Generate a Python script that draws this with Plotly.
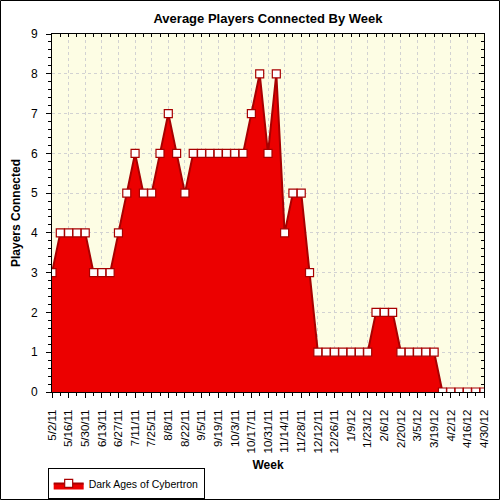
import plotly.graph_objects as go

# weekly averages
weeks = [
    "5/2/11", "5/9/11", "5/16/11", "5/23/11", "5/30/11", "6/6/11", "6/13/11", "6/20/11",
    "6/27/11", "7/4/11", "7/11/11", "7/18/11", "7/25/11", "8/1/11", "8/8/11", "8/15/11",
    "8/22/11", "8/29/11", "9/5/11", "9/12/11", "9/19/11", "9/26/11", "10/3/11", "10/10/11",
    "10/17/11", "10/24/11", "10/31/11", "11/7/11", "11/14/11", "11/21/11", "11/28/11",
    "12/5/11", "12/12/11", "12/19/11", "12/26/11", "1/2/12", "1/9/12", "1/16/12", "1/23/12",
    "1/30/12", "2/6/12", "2/13/12", "2/20/12", "2/27/12", "3/5/12", "3/12/12", "3/19/12",
    "3/26/12", "4/2/12", "4/9/12", "4/16/12", "4/23/12", "4/30/12",
]
players = [
    3, 4, 4, 4, 4, 3, 3, 3,
    4, 5, 6, 5, 5, 6, 7, 6,
    5, 6, 6, 6, 6, 6, 6, 6,
    7, 8, 6, 8, 4, 5, 5,
    3, 1, 1, 1, 1, 1, 1, 1,
    2, 2, 2, 1, 1, 1, 1, 1,
    0, 0, 0, 0, 0, 0,
]
series_name = "Dark Ages of Cybertron"

x = list(range(len(weeks)))
tick_pos = x[::2]
tick_txt = weeks[::2]

FONT = "Liberation Sans, Arial, sans-serif"

fig = go.Figure(layout=dict(width=500, height=500))
fig.add_trace(go.Scatter(
    x=x, y=players, name=series_name, mode="lines+markers",
    fill="tozeroy", fillcolor="#EC0000",
    line=dict(color="#A80000", width=2),
    marker=dict(symbol="square", size=8, color="white", line=dict(color="#A80000", width=1.2)),
))
# invisible copy so the top/right axes get drawn
fig.add_trace(go.Scatter(
    x=x, y=players, xaxis="x2", yaxis="y2", mode="lines",
    line=dict(width=0), showlegend=False, hoverinfo="skip",
))

grid = dict(showgrid=True, gridcolor="#D2D2D2", griddash="dot", gridwidth=1)

fig.update_layout(
    margin=dict(l=52, r=16, t=34, b=108, autoexpand=False),
    paper_bgcolor="white",
    plot_bgcolor="#FDFDE4",
    font=dict(family=FONT, size=12, color="black"),
    title=dict(text="<b>Average Players Connected By Week</b>", x=0.5, xref="paper",
               y=0.964, yref="container", yanchor="middle", font=dict(size=13)),
    xaxis=dict(
        range=[0, len(weeks) - 1], tickmode="array", tickvals=tick_pos, ticktext=tick_txt,
        tickangle=-90, tickfont=dict(size=11.5), ticks="outside", ticklen=5, tickcolor="black",
        minor=dict(dtick=1, ticks="outside", ticklen=3, tickcolor="black", showgrid=False),
        showline=True, linecolor="black", linewidth=1, zeroline=False,
        ticklabelstandoff=7, automargin=False,
        title=dict(text="<b>Week</b>", font=dict(size=12), standoff=8),
        **grid,
    ),
    yaxis=dict(
        range=[0, 9], dtick=1, ticks="outside", ticklen=5, tickcolor="black",
        minor=dict(dtick=0.2, ticks="outside", ticklen=3, tickcolor="black", showgrid=False),
        showline=True, linecolor="black", linewidth=1, zeroline=False,
        ticklabelstandoff=6, automargin=False,
        title=dict(text="<b>Players Connected</b>", font=dict(size=12), standoff=7),
        **grid,
    ),
    xaxis2=dict(
        overlaying="x", side="top", range=[0, len(weeks) - 1], dtick=1,
        ticks="inside", ticklen=3, tickcolor="black", showticklabels=False,
        showline=True, linecolor="black", showgrid=False, zeroline=False, automargin=False,
    ),
    yaxis2=dict(
        overlaying="y", side="right", range=[0, 9], dtick=1, ticks="inside", ticklen=5,
        tickcolor="black", showticklabels=False,
        minor=dict(dtick=0.2, ticks="inside", ticklen=3, tickcolor="black", showgrid=False),
        showline=True, linecolor="black", showgrid=False, zeroline=False, automargin=False,
    ),
    showlegend=True,
    legend=dict(
        orientation="h", x=-0.01, xanchor="left", y=-0.212, yanchor="top",
        bordercolor="black", borderwidth=1, bgcolor="white",
        font=dict(size=10.5), itemwidth=30,
    ),
)

# frame around the whole picture
fig.add_shape(type="rect", xref="paper", yref="paper",
              x0=(0.5 - 52) / 432, x1=(499.5 - 52) / 432,
              y0=(392 - 499.5) / 358, y1=(392 - 0.5) / 358,
              line=dict(color="black", width=1))

fig.write_html("out.html", config={"displayModeBar": False},
               post_script="document.body.style.margin='0';")
